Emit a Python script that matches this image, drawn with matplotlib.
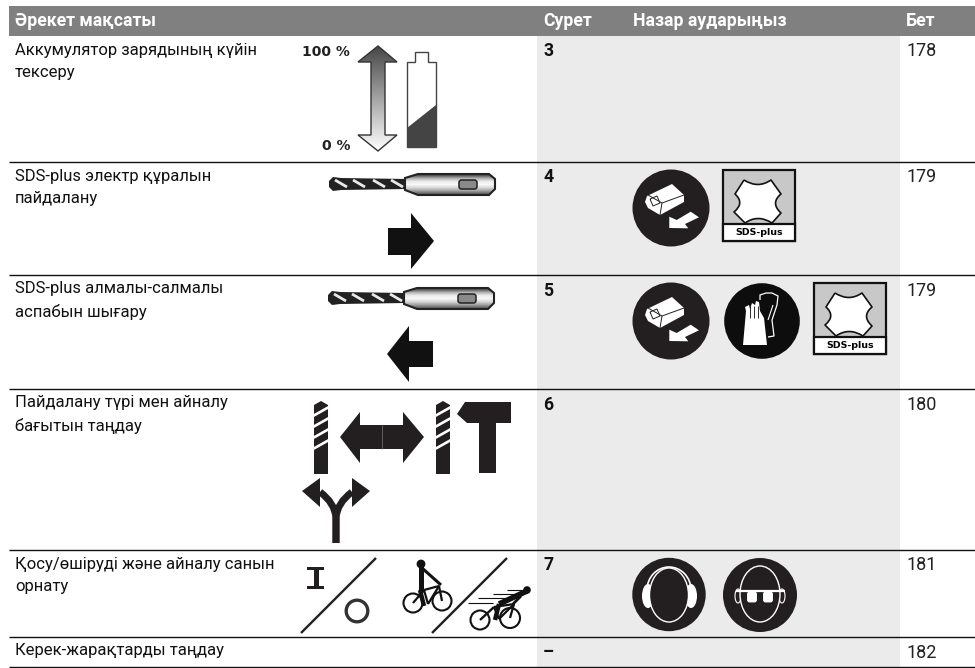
import matplotlib
matplotlib.use("Agg")
import matplotlib.pyplot as plt
import numpy as np
from matplotlib.patches import Polygon, Circle, Rectangle, FancyBboxPatch, Ellipse, PathPatch
from matplotlib.path import Path
from matplotlib.lines import Line2D

headers = ["Әрекет мақсаты", "Сурет", "Назар аударыңыз", "Бет"]
goals = ["Аккумулятор зарядының күйін\nтексеру",
         "SDS-plus электр құралын\nпайдалану",
         "SDS-plus алмалы-салмалы\nаспабын шығару",
         "Пайдалану түрі мен айналу\nбағытын таңдау",
         "Қосу/өшіруді және айналу санын\nорнату",
         "Керек-жарақтарды таңдау"]
figures = ["3", "4", "5", "6", "7", "–"]
pages = ["178", "179", "179", "180", "181", "182"]
row_bottoms = [162, 275, 389, 550, 637, 667]
row_tops = [36, 162, 275, 389, 550, 637]
col_x = [15, 543, 633, 906]
FONT = "Roboto"
DARK = "#231f20"
GREY = "#ebebeb"

fig = plt.figure(figsize=(9.75, 6.68), dpi=100)
ax = fig.add_axes([0, 0, 1, 1])
ax.set_xlim(0, 975); ax.set_ylim(668, 0); ax.axis("off")

def poly(pts, fc=DARK, ec="none", lw=0, z=3):
    ax.add_patch(Polygon(pts, closed=True, fc=fc, ec=ec, lw=lw, zorder=z))

def seg(xs, ys, color=DARK, lw=1.0, z=3):
    ax.add_line(Line2D(xs, ys, color=color, lw=lw, zorder=z, solid_capstyle="butt"))

# table
ax.add_patch(Rectangle((9, 6), 966, 30, fc="#808080", ec="none"))
ax.add_patch(Rectangle((537, 36), 363, 631, fc=GREY, ec="none"))
for h, x in zip(headers, col_x):
    ax.text(x, 21, h, color="white", fontsize=12.7, fontweight="bold", family=FONT, va="center")
for g, f, p, t, b in zip(goals, figures, pages, row_tops, row_bottoms):
    ax.text(15, t + 6.5, g, fontsize=12.0, family=FONT, va="top", color="#111111", linespacing=1.6)
    ax.text(543, t + 6.5, f, fontsize=12.7, family=FONT, va="top", fontweight="bold", color="#111111")
    ax.text(906, t + 6.5, p, fontsize=13, family=FONT, va="top", color="#222222")
    seg([9, 975], [b, b], color="#111111", lw=1.0, z=5)

# battery gauge
ax.text(350, 52, "100 %", ha="right", va="center", fontsize=10, fontweight="bold", family="DejaVu Sans", color="#222222")
ax.text(350, 146, "0 %", ha="right", va="center", fontsize=10, fontweight="bold", family="DejaVu Sans", color="#222222")
arrow = [(378, 46), (397, 62), (385, 62), (385, 135), (397, 135), (378, 151), (358, 135), (371, 135), (371, 62), (358, 62)]
grad = np.linspace(0.28, 1.0, 128).reshape(-1, 1)
im = ax.imshow(grad, cmap="gray", vmin=0, vmax=1, extent=(356, 398, 151, 46), aspect="auto", zorder=3)
pg = Polygon(arrow, closed=True, fc="none", ec="#333333", lw=1.0, zorder=4)
ax.add_patch(pg); im.set_clip_path(pg)
ax.set_xlim(0, 975); ax.set_ylim(668, 0)
poly([(407, 62), (415, 62), (415, 52), (428, 52), (428, 62), (436, 62), (436, 147), (407, 147)], fc="white", ec="#444444", lw=1.0)
poly([(407, 128), (436, 105), (436, 147), (407, 147)], fc="#444444")

# drill bit + shank
def drill(x0, y):
    sh = [(x0 + 76, y - 6), (x0 + 89, y - 10), (x0 + 160, y - 10), (x0 + 166, y - 5), (x0 + 166, y + 5), (x0 + 160, y + 11),
          (x0 + 89, y + 11), (x0 + 76, y + 6)]
    grad2 = np.array([.35, .7, .92, .97, .85, .65, .4]).reshape(-1, 1)
    im2 = ax.imshow(grad2, cmap="gray", vmin=0, vmax=1, extent=(x0 + 76, x0 + 167, y + 11, y - 10), aspect="auto", zorder=3.1, interpolation="bilinear")
    p = Polygon(sh, closed=True, fc="none", ec="#222222", lw=1.5, zorder=3.3)
    ax.add_patch(p); im2.set_clip_path(p)
    ax.set_xlim(0, 975); ax.set_ylim(668, 0)
    poly([(x0, y - 3), (x0 + 4, y - 7), (x0 + 12, y - 6), (x0 + 78, y - 5), (x0 + 78, y + 5), (x0 + 12, y + 6), (x0 + 4, y + 7), (x0, y + 3)], fc="#222222")
    for dx in (6, 24, 44, 62):
        seg([x0 + dx, x0 + dx + 12], [y - 4, y + 3], color="#e8e8e8", lw=2.0, z=4)
    ax.add_patch(FancyBboxPatch((x0 + 130, y - 4), 18, 9, boxstyle="round,pad=0,rounding_size=2.5", fc="#8a8a8a", ec="#222222", lw=1.1, zorder=4))
drill(329, 184)
drill(328, 298)
poly([(388, 228), (411, 228), (411, 213), (434, 241), (411, 269), (411, 255), (388, 255)], fc="#111111")
poly([(433, 341), (409, 341), (409, 326), (387, 354), (409, 382), (409, 367), (433, 367)], fc="#111111")

# mode icons
def bit(x, top, bot):
    poly([(x, top + 4), (x + 7, top), (x + 14, top + 4), (x + 14, bot), (x, bot)], fc=DARK)
    for k in range(4):
        yy = top + 9 + k * 11
        seg([x - 1, x + 15], [yy + 6, yy - 3], color="white", lw=1.9, z=4)
bit(314, 401, 474)
bit(436, 401, 474)
poly([(340, 437), (360, 412), (360, 425), (403, 425), (403, 412), (424, 437), (403, 463), (403, 449), (360, 449), (360, 463)], fc=DARK)
seg([382, 382], [425, 449], color="#777777", lw=0.5, z=4)
poly([(457, 414), (465, 402), (511, 402), (511, 423), (496, 423), (496, 473), (479, 473), (479, 423), (467, 423)], fc=DARK)
# fork
for s in (-1, 1):
    p = Path([(336, 543), (336, 518), (336 + s * 1, 503), (336 + s * 16, 492)], [Path.MOVETO, Path.LINETO, Path.CURVE3, Path.CURVE3])
    ax.add_patch(PathPatch(p, fc="none", ec=DARK, lw=5.0, zorder=3))
    poly([(336 + s * 16, 478), (336 + s * 34, 491), (336 + s * 16, 507)], fc=DARK)

# power
ax.add_patch(Rectangle((307, 567), 17, 3, fc=DARK, zorder=3))
ax.add_patch(Rectangle((307, 586), 17, 3, fc=DARK, zorder=3))
ax.add_patch(Rectangle((313.5, 567), 5, 22, fc=DARK, zorder=3))
seg([301, 376], [633, 558], lw=1.7)
ax.add_patch(Circle((357, 611), 10.8, fc="none", ec="#333333", lw=2.4, zorder=3))
seg([432, 507], [633, 558], lw=1.7)

def wheel(x, y, r=9.5):
    ax.add_patch(Circle((x, y), r, fc="none", ec="#111111", lw=1.5, zorder=3))
# slow rider
wheel(413, 603); wheel(442, 601)
ax.add_patch(Circle((421, 564), 4.4, fc="#111111", zorder=3))
for a, b, lw in [((420.5, 566), (420.5, 592), 3.6), ((422, 568), (441, 585), 2.2), ((420, 590), (424, 606), 3.2), ((413, 603), (424, 590), 1.6),
                 ((424, 590), (439, 586), 1.6), ((439, 586), (442, 601), 1.6), ((424, 590), (428, 604), 1.6), ((428, 604), (439, 586), 1.6)]:
    seg([a[0], b[0]], [a[1], b[1]], color="#111111", lw=lw)
# fast rider
wheel(480, 620, 9.5); wheel(510, 618, 10)
ax.add_patch(Circle((527, 590), 3.8, fc="#111111", zorder=3))
for a, b, lw in [((527, 591), (499, 604), 4.0), ((499, 604), (495, 620), 3.2), ((521, 596), (513, 604), 2.0), ((480, 620), (494, 607), 1.7),
                 ((494, 607), (514, 604), 1.6), ((514, 604), (510, 618), 1.6), ((494, 607), (499, 619), 1.6), ((499, 619), (514, 604), 1.6)]:
    seg([a[0], b[0]], [a[1], b[1]], color="#111111", lw=lw)
for y0, x0, x1 in [(590, 507, 522), (594, 493, 515), (598, 478, 505), (603, 468, 493)]:
    seg([x0, x1], [y0, y0], color="#111111", lw=0.8)

# remove-battery disc
def battery_disc(cx, cy):
    ax.add_patch(Circle((cx, cy), 38.5, fc=DARK, zorder=3))
    pts = np.array([(-24, -12), (1, -24), (13, -13), (13, -6), (-11, 7), (-23, 0), (-26, -6)], dtype=float)
    poly(pts + (cx, cy), fc="white", z=4)
    seg(cx + np.array([-21, -14, -11, -18, -21]), cy + np.array([-9, -12, -5, -2, -9]), lw=0.7, z=5)
    seg(cx + np.array([-23, -9, 13]), cy + np.array([-13, -5, -13]), lw=0.7, z=5)
    seg(cx + np.array([-9, -11]), cy + np.array([-5, 7]), lw=0.7, z=5)
    arr = np.array([(-1.7, 8.7), (5.7, 12), (19.7, 3.7), (28, 9.3), (14, 16), (17.3, 20.3), (-1.7, 20)], dtype=float)
    poly(arr + (cx, cy), fc="white", z=4)
battery_disc(671, 208)
battery_disc(671, 321)

# SDS-plus badge
lobes = [(21, 10), (48, 10), (58, 24), (58, 43), (49, 53), (22, 53), (11, 42), (12, 24)]
ctrl = [(35, 19), None, (47, 33), None, (35, 44), None, (22, 33), None]
def sds(x, y, w=72, h=71):
    ax.add_patch(Rectangle((x, y), w, h, fc="#c8c8c8", ec="#111111", lw=1.6, zorder=3))
    ax.add_patch(Rectangle((x, y + 54), w, h - 54, fc="white", ec="#111111", lw=1.6, zorder=3.1))
    ax.text(x + w / 2, y + 62.5, "SDS-plus", ha="center", va="center", fontsize=6.8, fontweight="bold", family="DejaVu Sans", zorder=4)
    v, c = [], []
    for i, pt in enumerate(lobes):
        if i == 0:
            v.append(pt); c.append(Path.MOVETO)
        elif ctrl[i - 1] is not None:
            v.extend([ctrl[i - 1], pt]); c.extend([Path.CURVE3, Path.CURVE3])
        else:
            v.append(pt); c.append(Path.LINETO)
    v.append(lobes[0]); c.append(Path.LINETO)
    v = [(x + a, y + b) for a, b in v]
    ax.add_patch(PathPatch(Path(v, c), fc="white", ec="#111111", lw=1.2, joinstyle="round", zorder=4))
sds(723, 170)
sds(814, 283)

# gloves disc
ax.add_patch(Circle((762, 321), 37.8, fc="#0d0d0d", zorder=3))
poly([(743, 345), (746, 311), (745, 307), (749, 305), (750, 309), (752, 303), (755, 305), (756, 301), (759, 302), (760, 311), (764, 318), (767, 345)], fc="white", z=4)
for xa in (749.5, 754, 757.5):
    seg([xa, xa], [306, 318], color="#0d0d0d", lw=0.6, z=5)
ax.add_patch(PathPatch(Path([(760, 300), (760, 295), (766, 293), (772, 293), (778, 296), (777, 305), (772, 320), (774, 336), (768, 337)],
             [Path.MOVETO] + [Path.LINETO] * 8), fc="none", ec="white", lw=0.9, zorder=4))
seg([768, 773], [320, 305], color="white", lw=0.8, z=4)

# ear + eye discs
ax.add_patch(Circle((669, 594.5), 36.7, fc=DARK, zorder=3))
ax.add_patch(Ellipse((669, 590), 44, 46, fc="none", ec="white", lw=1.2, zorder=3.5))
ax.add_patch(Ellipse((648, 596), 12, 24, fc="white", zorder=3.6))
ax.add_patch(Ellipse((691, 596), 12, 24, fc="white", zorder=3.6))
ax.add_patch(Ellipse((669, 595), 39, 54, fc=DARK, ec="white", lw=1.0, zorder=3.7))
ax.add_patch(Circle((760, 595), 37, fc=DARK, zorder=3))
ax.add_patch(Ellipse((760, 594), 40, 56, fc=DARK, ec="white", lw=1.0, zorder=4))
ax.add_patch(Ellipse((738, 596), 6, 14, fc=DARK, ec="white", lw=0.8, zorder=3.8))
ax.add_patch(Ellipse((782, 596), 6, 14, fc=DARK, ec="white", lw=0.8, zorder=3.8))
for gx in (752, 768):
    ax.add_patch(FancyBboxPatch((gx - 5.5, 591), 11, 12, boxstyle="round,pad=0,rounding_size=3", fc="white", ec=DARK, lw=0.8, zorder=5))
seg([736, 785], [590.5, 590.5], color="white", lw=1.6, z=5)

fig.savefig("out.png", dpi=100)
